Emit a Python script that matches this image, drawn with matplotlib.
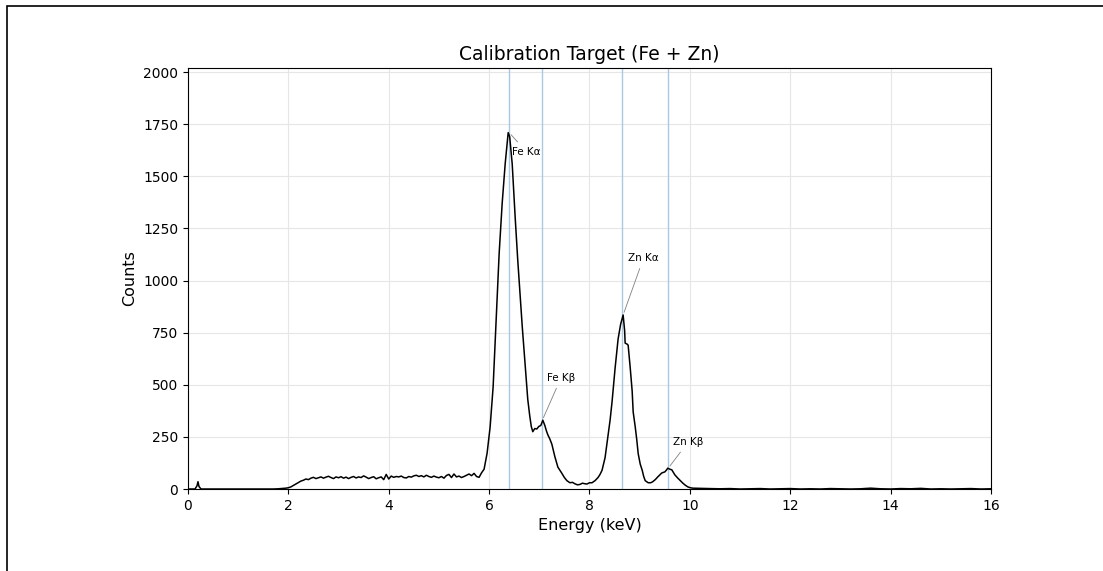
import matplotlib
matplotlib.use("Agg")
import matplotlib.pyplot as plt
from matplotlib.patches import Rectangle

# spectrum, split in three bands
energy_low = [0.0, 0.14, 0.18, 0.20, 0.22, 0.26, 1.0, 1.7, 1.8, 1.9,
              1.95, 2.00, 2.05, 2.10, 2.15, 2.20, 2.25, 2.30, 2.35, 2.40,
              2.45, 2.50, 2.55, 2.60, 2.65, 2.70, 2.75, 2.80, 2.85, 2.90,
              2.95, 3.00, 3.05, 3.10, 3.15, 3.20, 3.25, 3.30, 3.35, 3.40,
              3.45, 3.50, 3.55, 3.60, 3.65, 3.70, 3.75, 3.80, 3.85, 3.90,
              3.95, 4.00, 4.05, 4.10, 4.15, 4.20, 4.25, 4.30, 4.35, 4.40,
              4.45, 4.50, 4.55, 4.60, 4.65, 4.70, 4.75, 4.80, 4.85, 4.90,
              4.95, 5.00, 5.05, 5.10, 5.15, 5.20, 5.25, 5.30, 5.35, 5.40,
              5.45, 5.50, 5.55, 5.60, 5.65, 5.70, 5.75, 5.80, 5.85]
counts_low = [0, 0, 15, 35, 12, 0, 0, 0, 1, 3,
              4, 6, 10, 17, 24, 31, 38, 42, 48, 45,
              52, 56, 50, 54, 58, 52, 57, 61, 55, 50,
              58, 54, 59, 52, 57, 50, 56, 60, 53, 58,
              55, 63, 57, 50, 55, 59, 49, 54, 58, 45,
              70, 48, 62, 56, 60, 58, 62, 55, 53, 60,
              57, 63, 66, 60, 64, 58, 66, 60, 56, 62,
              57, 54, 60, 52, 65, 70, 55, 72, 58, 62,
              55, 60, 66, 72, 64, 75, 60, 56, 78]

energy_peaks = [5.90, 5.96, 6.02, 6.08, 6.14, 6.20, 6.26, 6.32, 6.38, 6.41,
                6.46, 6.52, 6.57, 6.61, 6.66, 6.71, 6.77, 6.81, 6.84, 6.87,
                6.91, 6.95, 6.99, 7.03, 7.07, 7.11, 7.14, 7.17, 7.21, 7.25,
                7.31, 7.37, 7.41, 7.45, 7.50, 7.55, 7.61, 7.66, 7.71, 7.76,
                7.81, 7.86, 7.91, 7.95, 8.00, 8.05, 8.11, 8.17, 8.21, 8.25,
                8.31, 8.37, 8.41, 8.45, 8.51, 8.57, 8.62, 8.67, 8.70, 8.71,
                8.75, 8.77, 8.81, 8.85, 8.87, 8.91, 8.94, 8.97, 9.01, 9.05,
                9.08, 9.11, 9.17, 9.22, 9.26, 9.31, 9.36, 9.41, 9.44, 9.50,
                9.53, 9.56, 9.60, 9.64, 9.67, 9.70, 9.73, 9.76, 9.81, 9.86,
                9.91, 9.96, 10.01, 10.06]
counts_peaks = [95, 172, 297, 490, 810, 1130, 1370, 1560, 1710, 1690,
                1560, 1300, 1100, 960, 780, 620, 430, 350, 300, 275,
                290, 288, 300, 305, 330, 305, 280, 260, 240, 215,
                155, 105, 90, 75, 55, 40, 30, 32, 25, 20,
                22, 28, 25, 24, 30, 30, 40, 55, 70, 90,
                150, 260, 330, 420, 580, 720, 790, 835, 760, 700,
                695, 690, 585, 470, 370, 300, 240, 170, 120, 90,
                60, 40, 30, 30, 35, 45, 58, 70, 77, 82,
                90, 100, 95, 92, 80, 68, 60, 52, 40, 28,
                18, 10, 6, 4]

energy_tail = [10.2, 10.4, 10.6, 10.8, 11.0, 11.2, 11.4, 11.6, 11.8, 12.0,
               12.2, 12.4, 12.6, 12.8, 13.0, 13.2, 13.4, 13.6, 13.8, 14.0,
               14.2, 14.4, 14.6, 14.8, 15.0, 15.2, 15.4, 15.6, 15.8, 16.0]
counts_tail = [3, 2, 1, 2, 0, 1, 2, 0, 1, 2,
               0, 1, 0, 2, 1, 0, 1, 4, 1, 0,
               2, 1, 3, 0, 1, 0, 1, 2, 0, 1]

energy = energy_low + energy_peaks + energy_tail
counts = counts_low + counts_peaks + counts_tail

# reference lines and their labels
line_names = ['Fe Kα', 'Fe Kβ', 'Zn Kα', 'Zn Kβ']
line_energy = [6.40, 7.06, 8.64, 9.57]
peak_xy = [(6.40, 1710), (7.06, 330), (8.67, 835), (9.57, 100)]
label_xy = [(6.46, 1618), (7.15, 533), (8.77, 1108), (9.66, 225)]

fig = plt.figure(figsize=(11.03, 5.71), dpi=100)
ax = fig.add_axes([0.1704, 0.1436, 0.7281, 0.7373])

# frame around the figure (only left and top edges fall inside the image)
fig.patches.append(Rectangle((7 / 1103, -0.05), 1.1, 1.05 - 6 / 571 + 0.0,
                             transform=fig.transFigure, fill=False,
                             edgecolor='black', linewidth=1.2))

ax.grid(True, color='#e6e6e6', linewidth=0.8)
ax.set_axisbelow(True)

for e in line_energy:
    ax.axvline(e, color='#a9c9e2', linewidth=1.0, zorder=1)

ax.plot(energy, counts, color='black', linewidth=1.1, zorder=3)

for name, xy, txy in zip(line_names, peak_xy, label_xy):
    ax.annotate(name, xy=xy, xytext=txy, fontsize=7.5, ha='left', va='center',
                arrowprops=dict(arrowstyle='-', color='gray', linewidth=0.6),
                zorder=4)

ax.set_xlim(0, 16)
ax.set_ylim(0, 2020)
ax.set_xticks(range(0, 17, 2))
ax.set_yticks([0, 250, 500, 750, 1000, 1250, 1500, 1750, 2000])
ax.set_title('Calibration Target (Fe + Zn)', fontsize=13.5)
ax.set_xlabel('Energy (keV)', fontsize=11.5)
ax.set_ylabel('Counts', fontsize=11.5)

fig.savefig('out.png', dpi=100)
